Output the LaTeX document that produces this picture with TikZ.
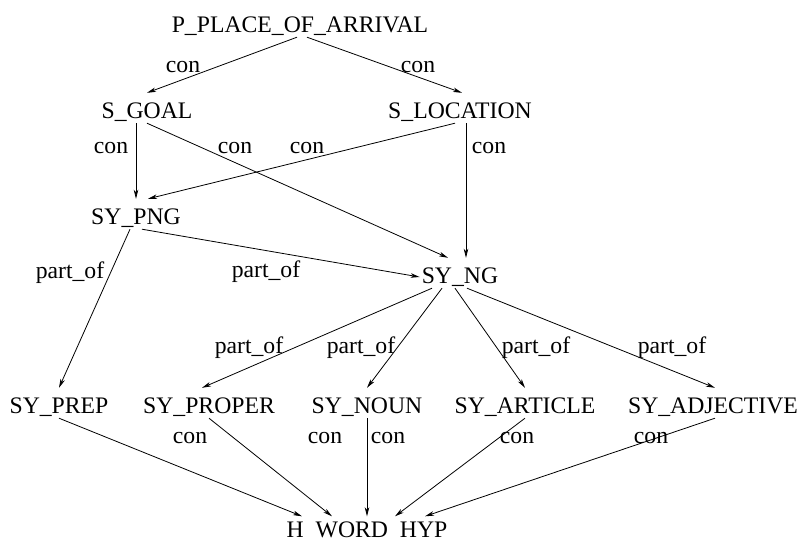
\documentclass[tikz,border=0pt]{standalone}
\usepackage{fontspec}
\setmainfont{Liberation Serif}
\usetikzlibrary{arrows.meta}
\tikzset{>={Stealth[length=9pt,width=4.5pt,inset=2.5pt]}}
\tikzstyle{word}=[anchor=base,inner xsep=2pt,inner ysep=0pt,text height=25pt,text depth=5pt]
\tikzstyle{link}=[->,line width=0.8pt]
\tikzstyle{lbl}=[anchor=base,inner sep=0pt]

\begin{document}
\begin{tikzpicture}[x=1pt,y=-1pt,font=\fontsize{23.7}{28}\selectfont]
                \useasboundingbox (0,0) rectangle (801,542);
                % concept levels
                \node[word] (arr) at (300,32) {P\_PLACE\_OF\_ARRIVAL};
                \node[word] (goal) at (147,118) {S\_GOAL};
                \node[word] (loc) at (460,118) {S\_LOCATION};
                \node[word] (png) at (136,224) {SY\_PNG};
                \node[word] (ng) at (460,283) {SY\_NG};
                % word classes
                \node[word] (prep) at (59,413) {SY\_PREP};
                \node[word] (proper) at (209,413) {SY\_PROPER};
                \node[word] (noun) at (367,413) {SY\_NOUN};
                \node[word] (article) at (525,413) {SY\_ARTICLE};
                \node[word] (adj) at (713,413) {SY\_ADJECTIVE};
                \node[word,text height=21pt,text depth=2pt] (hyp) at (367,537.5) {H\phantom{\_}WORD\phantom{\_}HYP};
                % con links
                \draw[link] ([xshift=-3pt]arr.south) -- (goal.north) node[lbl] at (183,72) {con};
                \draw[link] ([xshift=7pt]arr.south) -- ([xshift=2pt]loc.north) node[lbl] at (418,72) {con};
                \draw[link] ([xshift=-11pt]goal.south) -- (png.north) node[lbl] at (111,153) {con};
                \draw[link] (goal.south) -- ([xshift=-12pt]ng.north) node[lbl] at (235,153) {con};
                \draw[link] ([xshift=-5pt]loc.south) -- ([xshift=12pt]png.north) node[lbl] at (307,153) {con};
                \draw[link] ([xshift=6pt]loc.south) -- ([xshift=6pt]ng.north) node[lbl] at (489,153) {con};
                % part_of links
                \draw[link] ([xshift=-6pt]png.south) -- (prep.north) node[lbl] at (70,278) {part\_of};
                \draw[link] ([xshift=6pt]png.south) -- ([yshift=-4pt]ng.west) node[lbl] at (266,277) {part\_of};
                \draw[link] ([xshift=-28pt]ng.south) -- ([xshift=-7pt]proper.north) node[lbl] at (249,353) {part\_of};
                \draw[link] ([xshift=-18pt]ng.south) -- (noun.north) node[lbl] at (361,353) {part\_of};
                \draw[link] ([xshift=-5pt]ng.south) -- (article.north) node[lbl] at (536,353) {part\_of};
                \draw[link] ([xshift=7pt]ng.south) -- ([xshift=2pt]adj.north) node[lbl] at (672,353) {part\_of};
                % down to the hypothesis
                \draw[link] (prep.south) -- ([xshift=-65pt]hyp.north) node[lbl] at (190,443) {con};
                \draw[link] (proper.south) -- ([xshift=-35pt]hyp.north) node[lbl] at (325,443) {con};
                \draw[link] (noun.south) -- (hyp.north) node[lbl] at (388,443) {con};
                \draw[link] (article.south) -- ([xshift=28pt]hyp.north) node[lbl] at (517,443) {con};
                \draw[link] ([xshift=2pt]adj.south) -- ([xshift=58pt]hyp.north) node[lbl] at (651,443) {con};
              \end{tikzpicture}
\end{document}
